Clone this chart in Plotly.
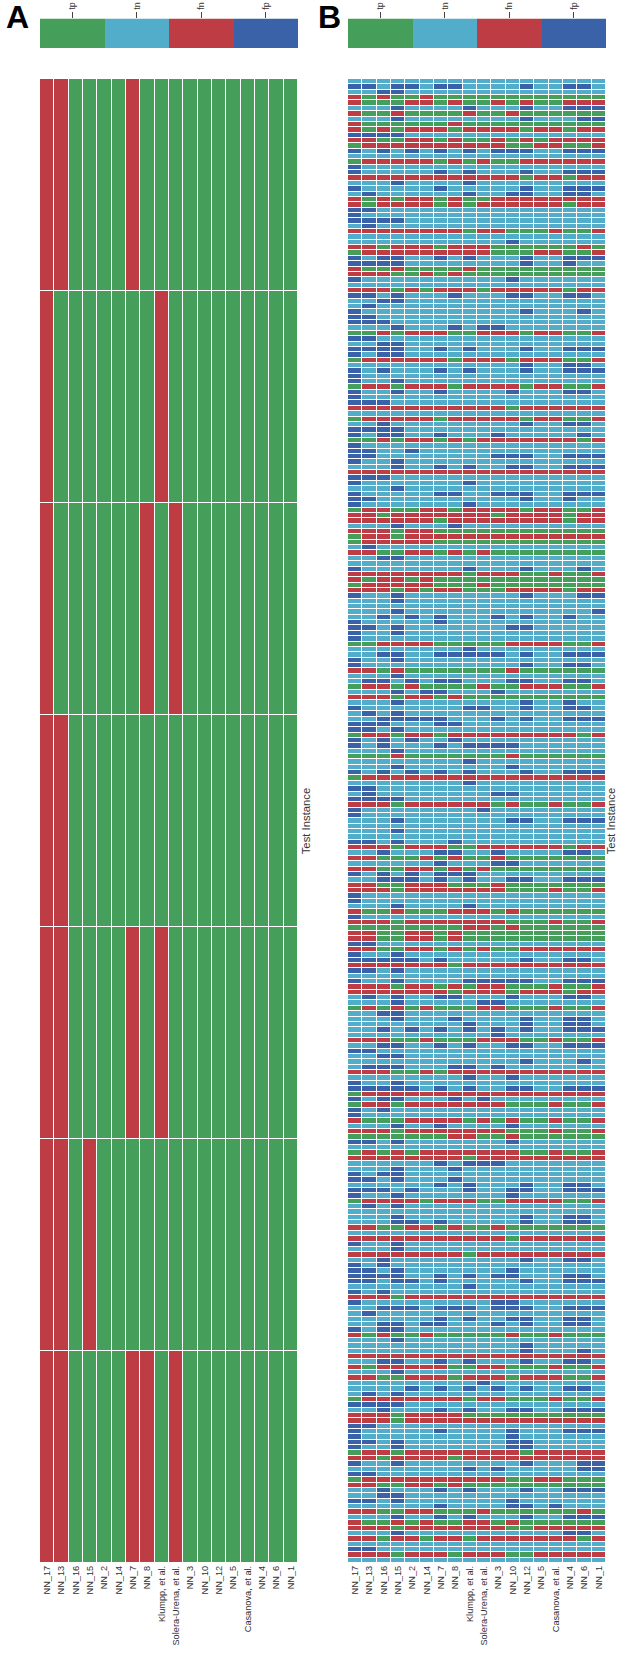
import plotly.graph_objects as go

W, H = 617, 1660
methods = ["NN_17","NN_13","NN_16","NN_15","NN_2","NN_14","NN_7","NN_8","Klumpp, et al.","Solera-Urena, et al.",
           "NN_3","NN_10","NN_12","NN_5","Casanova, et al.","NN_4","NN_6","NN_1"]
outcomes = ["tp","tn","fn","fp"]
colors = ["#459E5A","#52ADCB","#BE3D44","#3A62A8"]
codes = {"G":0,"C":1,"R":2,"B":3}

panel_a = [
"RRGGGGRGGGGGGGGGGG",
"RGGGGGGGRGGGGGGGGG",
"RGGGGGGRGRGGGGGGGG",
"RRGGGGGGGGGGGGGGGG",
"RRGGGGRGRGGGGGGGGG",
"RRGRGGGGGGGGGGGGGG",
"RRGGGGRRGRGGGGGGGG",
]

panel_b = [
"CCCCCCCCCCCCCCCCCC","BBCBBCBBCCCCBCCBBC","CCBBCCCCCCCCCCCCCC","RGRGGRGGGGGGGGGGGG",
"RGGGRRGRGGRGRGGRRR","CCCBCCCCBCCCBCCBBB","RGGRGGGGRGGRGGGGGG","CCCBCCCCCCCCBCCCBB",
"RGGGGGGRGGGGGGGGGG","RGRGRRRGRRRRGRRGRR","BBBBCCCCCCCCCCCCCC","RRGGRRGRGGRGRGRRRR",
"GRRRRRRRRRRGGRRGGR","BCBCBCBCBCBBBCCBBB","CCCCCCCCCCCCCCCCCC","GRRRRRGRGRGGRRRRRR",
"BCCCCCCCCCCCCCCCCC","BCCCCCBCBCCCBCCBBB","RRRRRRRRRRRRGRRGRR","CCCBCCCCBCCCCCCCCC",
"BCCCCCBCCCCCBCCBBB","CBCCCCCCBCCBBCCBBC","RGRGRRGRGGRRRRRRRR","RGRRRRGRGRRRRRRGRR",
"BBCCCCCCCCCCCCCCCC","BCCCCCCCCCCCCCCCCC","BBBBCCCCCCCCCCCCCC","CBCCCCCCCCCCCCCCCC",
"RRRRRRRRGRRGGGRGGR","CCCCCCCCCCCCCCCCCC","CCCCCCCCCCCBCCCCCC","RRGRRRGRRRGGGGGGRG",
"GRRRRRRRRRGGGRRGGR","BCBBCCBCBCCCBCCBBB","BBBBCCCCCCCCBCCBCC","RGGRGGGGRGGGGGGGGG",
"RRRGGRGRGGGGGGGGGG","BCCCCCCCCCCBCCCCCC","CCCCCCCCCCCCCCCCCC","RRRGRGRRRGRRRRRGRR",
"BBCBCCCBCCCBBCCBBC","CCBBCCCCCCCCCCCCCC","CBCCCCCCCCCCCCCCCC","BCCCCCCCCCCCBCCCBC",
"BBCCCCCCCCCCCCCCCC","BBBCCCCCCCCCCCCCCC","CCCBCCCBCBBCCCCCCC","GGRGRRRGGRRRGRRGGR",
"BBCCCCCCCCCCCCCCCC","CCBBCCCCCCCCCCCCCC","BBBBCCBCBCCCBCCBBB","BCBBCCCCCCCCCCCCCC",
"GRRRRRRGRRRGRRRGGR","CCCCCCCCCCCCBCCBBC","BCBCCCBCBCCCBCCBBB","BCCCCCCCCCCCCCCCCC",
"BCCBCCCCCCCCCCCCCC","GRRGRRRGRRRRGRRGGR","BCCBCCBCCCCBCCCBBC","BCCCCCCCCCCCCCCCCC",
"BBBCCCCCCCCCCCCCCC","RRRRRRRRRRRGRRRRRR","CCCCCCCCCCCCCCCCCC","GRRRRRGRRRRRGRRGGR",
"CCBCCCCCCCCCBCCBBC","BBBBCCCCCCCCCCCCCC","BCBBCCBCCCBCCCCCBC","GGRGRRGRGRRRRRRRGR",
"BCCCCCCCCCCCCCCCCC","BBCCBCCCCCCCCCCCCC","BBCCCCCCCCBBBCCBBB","BCCBCCCCCCCCCCCCCC",
"CCCBCCBCBCCBBCCBBB","RRRRRRRRRRRRRRRRRR","BBBCCCCCCCCCCCCCCC","BCCCCCCCBCCCCCCCCC",
"CCCBCCCCCCCCCCCCCC","BCCCCCBBCCBBBCCBBB","BBCCCCCCCCCCBCCBCC","BCCCCCCCBCCCCCCCCC",
"GRRGGRRGRRRRGRRGGR","RRGRRRRRRRGRRRRGRR","RRRRRRGRRRRRRRRGRR","CCCBCCCBCCCCCCCCCC",
"RRRGRRGGGGGGGGGGGG","GRRGRRRRRRRRRRRRRR","GRRRRRGGGGGGGGGGGG","CBCCCCCCCCCCCCCCCC",
"RRGGRRGRGRGGGGGGGG","CCBBCCCCCCCCCCCCCC","CCCCCCCCCCCCCCCCCC","BCCCCCCCBCCCBCCCBC",
"RRRRRRRRGRRRGGRGGR","RGRRGRGGGGGGGGGGGG","GRRRRRGGGRGGGGGGGG","RRRGRGRRGGGRRRRGRR",
"BCCBCCCCCCCCBCCCBB","CCCBCCCCCCCCCCCCCC","CCCCCCCCCCCCCCCCCC","CCCBCCCCCCCCCCCCCB",
"CCBCBCBCCCBCBCCBCC","BCCCCCBCCCCCCCCCCC","BBCBCCCCCCCBBCCCCC","BCCBCCCCCCCCCCCCCC",
"BCCCCCCCCCCCCCCCCC","GGRRRRGGGGGRRRRGGR","CCCCCCCCBCCCCCCCCC","CCBBCCBBBBBCBCCBBB",
"BCCBCCCCCCCCCCCCCC","BCCCCCCCCCCCBCCBBC","RRGRGGGGGGGRGGGGGG","CCCBCCCCCCCCCCCCCC",
"CBBCBCBBCCCBBCCBBC","GRRGRGGGGRGGRRRGGR","CCCBCBBCCCBCCCCCCC","RRRGRRGRGGGGGGGGGG",
"CCCBCCCCCCCCBCCBCC","BCCCCCCCBBCCBCCBBC","CBCBCCCCCCCCCCCCCC","CCBBBBBCCCBCBCCBBB",
"BBBCCCBBCCCCCCCCCC","BBCBCCCCCCCCCCCCCC","GRRGRRGRRRRRRRRRGR","BCBCBCCBCCCCCCCCCC",
"BCBCCCBCBBBBCCCCCC","CCCBCCCCCCCCCCCCCC","GGGRGGGGGGGRGGGGGG","CCCCCCCCBCCCCCCCCC",
"CCCBCCCCCCCBCCCCCC","BCBCBCBCBCCCBCCBBB","GRRRRRRRRRRRRRRRRR","CCCCCCCCBCCCCCCCCC",
"BBCCCCCCCCCCCCCCCC","CBCCCCCCCCBBCCCCCC","BBBBCCCCCCCCCCCCCC","RRRGRRRRRRGRGGRGGR",
"BCCCCCCCCBCCCCCCCC","BCCCCCCCCCCCCCCCCC","CCCBCCCCCCCBBCCBBB","CCCCCCCCCCCCCCCCCC",
"CCCBCCCCCCCCCCCCCC","CCCCCCCCCCCCCCCCCC","BBCBCCCBCCCCCCCCCC","RRRGRRRGGRRRRRRGRR",
"CCBCCCBBCCBCCCCBBC","RRGGGRGRGGRGGGGGGG","CCCCCCBCCCBBCCCCCC","RRGGRRGRGRGGGGGGGG",
"BCBCBCBBBCCCCCCCCC","CCBBBCBCBCCBBCCBBB","RRGGRRRGGGRGGGGGGG","RRRGRRRRRRRGGGRGGR",
"BCCCCCCCCCCCCCCCCC","BCCCCCCCCCCCCCCCCC","CCCBCCCCBCCCCCCCCC","RGGRGGGRRRGRGGGGGG",
"BCCCCCCCCCCCCCCCCC","RRRGRRRRRRRGGGRGGR","GGGGGGGGRRGRGGGGGG","RRGGRRGRGGGGGGGGGG",
"RRGGRRGRGGGGGGGGGG","BBCCCCCCCCCCCCCCCC","RRGGRRGRGRGGRRRRRR","BCCBCCCCCCCCCCCCCC",
"BBBBBCBCCCCCBCCBBC","RRRRRRRGRRRRRRRRRR","BBCBCCCCCCCCCCCCCC","CCCCCCCCCCCCCCCCCC",
"BCCBCCCCBBBBBCCBBB","RRRGRRGRGRRGGGRGGR","RRRRRRRGRRRGRRRGRR","CBCBCCBBCCCBCCCBBC",
"CCCBCCCCCBBCCCCCCC","GRGRGRGGGRRGGGRGGR","CCBBCCCCCCCCCCCCCC","CCCBCCCBCCCCBCCBBC",
"CCCCCCCCBCCCBCCBBC","CCBCBCBCBCBCBCCBBB","CCCCCCCCCCBCCCCCCC","RRRGGRGGGRRRGGRGGR",
"CCBBCCBCBCCBBCCBBB","BBCCCCCCCCCCCCCCCC","CCBBCCCCCCCCCCCCCC","CCCCCCCCCCCCBCCCBC",
"CBBBCCCBBCBCCCCCCC","RRRGGRGRRRRRRRRRRR","CCCCCCCCBCCBCCCCCC","BCCBCCCCCCCCCCCCCC",
"BBBBBCBCBCCBBCCBBB","GRRRRRRRRRRRRRRRRR","BCBBCCCBCBCCCCCCCC","GRRGRRRRRRRGGGRGGR",
"BCBCCCCCCCCCCCCCCC","BCCCCCCCCCCCCCCCCC","RGGGRRRRGRGRGGRGGR","CCCBCCBCCCCBCCCCCC",
"RRRGRRRRRRRGGGRGGR","GGGGGGGRRGGRGGGGGG","BBCBCCCCCCCBCCCCCC","CCCCCCCCCCCCCCCCCC",
"GRGRGRRRRRRRGGRGGR","RRRRRRRRGRRRRRRRRR","CCCCCCBCBBBCCCCCCC","CCCBCCCBCCCCCCCCCC",
"BCBBCCCCCCCCCCCCCC","BBCBCCCBCCCCCCCCCC","CCCCCCBCBCCCBCCBBC","BBBCBCCCBCCBBCCBBB",
"BCCBCCCCCCCBCCCCCC","GRRRRGRRRGGRRRRGGR","CBCBCCCCCCCCCCCCCC","CCCCCCCCCCCCCCCCCC",
"CCCBCCCCCCCCBCCBBC","CCCBBCBCCCCCBCCBBC","RRGGRRGRGGRGGGGGGG","CCCCCCCCCCCCCCCCCC",
"RRRRRRRRRRRGRRRRRR","BCCBCCCCCCCCCCCCCC","CCCBCCCCCCCCCCCCCC","RRRRRRRRGRRRRRRRRR",
"CCBCCCCCCCCCBCCBBC","BCBCCCCCCCCCCCCCCC","BBCBCCCCCCCBCCCCCC","BBBBCCBCBCBBCCCBBC",
"BBCBBCBCCCCCBCCBBB","CCCCCCCCBCCCCCCCCC","BCBCCCCCCCCCCCCCCC","RRRGRRRRRRRRRRRRRR",
"BCCCCCCCCCBBCCCCCC","CCBBBCBBBCBBBCCBBB","CBCCCCCCCCCCCCCCCC","CCCCCCBCBCCBBCCBBC",
"CCBBCBBCCCBCBCCBBC","BCBBCCCCCCCCCCCCCC","RGRGGRGGGGGRGGRGGG","CCCBCCCCCCCCCCCCCC",
"CCCCCCCCCCCCBCCCCC","CCCCCCCCCCCCBCCCBC","RRRRRRRRRRRRRRRRRR","CCBBCCBCBCCCBCCBBC",
"RGRRRRRGGRRGGGRGGR","CCCBCCCCCCCCCCCCCC","RRGGRRRGRRRGRRRGGR","CCCCCCCCCBCCCCCCCC",
"CCCCBCBCBCBCBCCBBC","CBCBCCCCCCCCCCCCCC","GRRRRRRRGRRGGGRGGR","BBBBCCCCCCCCCCCCCC",
"CCBCCCBCBCCBBCCBBB","RRRGRRRRGGGGGGGGGG","RRRGRRRRRRRRRRRRRR","BBCCCCCCCCCCCCCCCC",
"BCCCCCBCCCCBCCCBBB","BCCCCCCCCCCBCCCCCC","BBCBCCCCCCCBBCCCCC","BCCBCCCCCCCBBCCCCC",
"GRRGRRRRRRRRGRRRRR","RRGRRRRGRRRRRRRRRR","BCCBCCCCCCCCBCCCBB","CCCCCCCCBCBCCCCCBB",
"BBCCCCCCCCCCCCCCCC","GRRRRRRRRRRGGRRGGG","RRGGRRGRGGGGGGGGGG","CCBCCCBCBCCCBCCBBB",
"CCBBCCCCCCCCCCCCCC","BBCBCCCCCCCBCCCCCC","CCCCCCBCCCCBBCBCCC","RRGGRRGGGRGGGGGGRG",
"CCCBCCBCBCCCBCCBBB","RGGRGRGGRRGRGGGGGG","RRRGRRRRRRRGGRRRRR","CCCBCCCCCCCCCCCBBC",
"RRGRRGRRGRRRRRRRGR","CCCCCCCCCCCCCCCCCC","BBCCCCCCCCCCCCCCCC","RRRGRRRGRRRGGRRRRR",
"CCCCCCCCCCCCCCCCCC",
]

def cells(rows):
    return [[codes[ch] for ch in row] for row in rows]

scale = [[0,colors[0]],[.25,colors[0]],[.25,colors[1]],[.5,colors[1]],[.5,colors[2]],[.75,colors[2]],[.75,colors[3]],[1,colors[3]]]
panels = [(40,298,"x","y",panel_a,1,1,"x3","y3"),(348,606,"x2","y2",panel_b,1,1,"x4","y4")]
TOP, BOT = 79, 1563
fig = go.Figure()
layout = {}
fs = lambda a: a.replace("x","xaxis").replace("y","yaxis")
for x0,x1,xa,ya,rows,xg,yg,xb,yb in panels:
    fig.add_trace(go.Heatmap(z=cells(rows),x=methods,y=list(range(len(rows))),xaxis=xa,yaxis=ya,
        zmin=0,zmax=3,colorscale=scale,showscale=False,xgap=xg,ygap=yg,hoverinfo="skip"))
    fig.add_trace(go.Heatmap(z=[[0,1,2,3]],x=[0,1,2,3],y=[0],xaxis=xb,yaxis=yb,
        zmin=0,zmax=3,colorscale=scale,showscale=False,hoverinfo="skip"))
    layout[fs(xa)] = dict(domain=[x0/W,x1/W],anchor=ya,type="category",side="bottom",tickangle=-90,
        tickfont=dict(family="Liberation Sans",size=9.2,color="#333"),ticks="",showgrid=False,automargin=False)
    layout[fs(ya)] = dict(domain=[1-BOT/H,1-TOP/H],anchor=xa,autorange="reversed",showticklabels=False,ticks="",showgrid=False,zeroline=False,
        side="right",title=dict(text="Test Instance",font=dict(family="Liberation Sans",size=11.3,color="#333"),standoff=4))
    layout[fs(xb)] = dict(domain=[x0/W,x1/W],anchor=yb,side="top",tickmode="array",tickvals=[0,1,2,3],ticktext=outcomes,
        tickangle=-90,ticks="outside",ticklen=6,tickcolor="#444",tickwidth=1,tickfont=dict(family="Liberation Sans",size=9,color="#333"),showgrid=False,zeroline=False)
    layout[fs(yb)] = dict(domain=[1-48/H,1-18.5/H],anchor=xb,showticklabels=False,ticks="",showgrid=False,zeroline=False)

fig.update_layout(width=W,height=H,margin=dict(l=0,r=0,t=0,b=0),paper_bgcolor="white",plot_bgcolor="white",**layout)
for t,xp in (("A",17),("B",330)):
    fig.add_annotation(text="<b>%s</b>"%t,x=xp/W,y=1-17/H,xref="paper",yref="paper",showarrow=False,xanchor="center",yanchor="middle",
        font=dict(family="Liberation Sans",size=32,color="black"))
fig.write_html("out.html",config={"displayModeBar":False},post_script="document.body.style.margin='0';")
